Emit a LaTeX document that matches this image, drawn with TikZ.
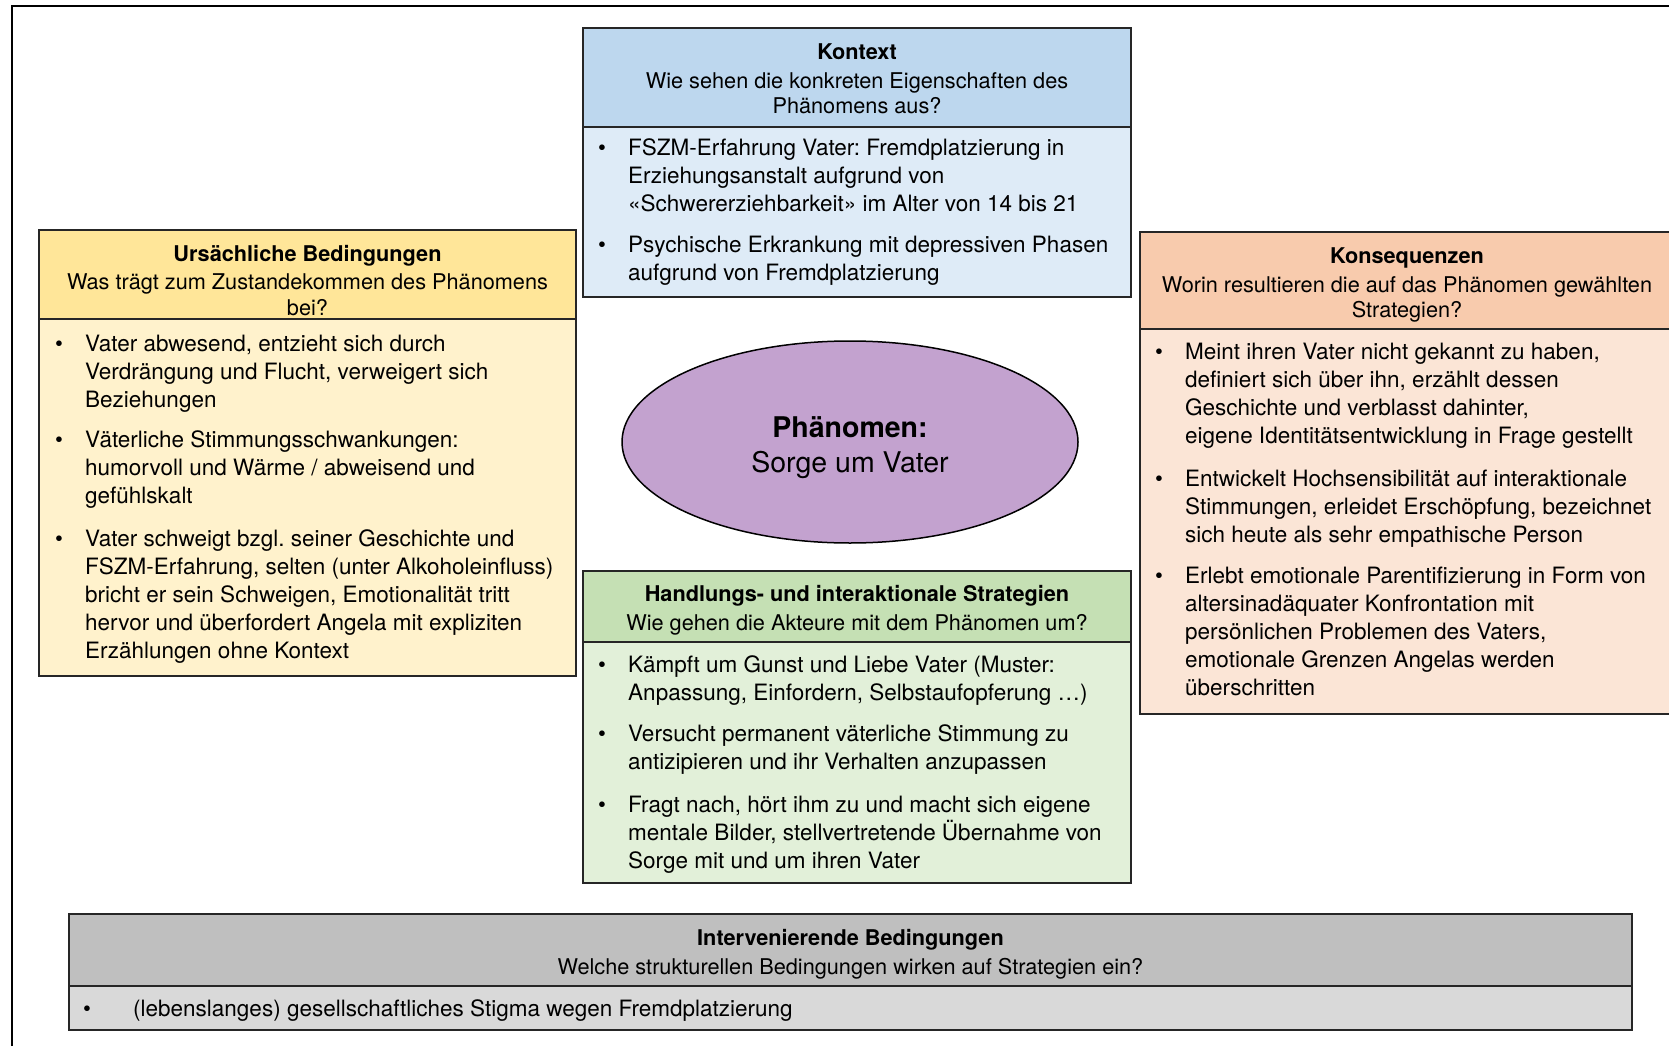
\documentclass[tikz,border=0pt]{standalone}
\usepackage{fontspec}
\setmainfont{TeX Gyre Heros}
\usetikzlibrary{shapes.geometric}
\definecolor{kbh}{HTML}{BDD7EE}\definecolor{kbb}{HTML}{DEEBF7}
\definecolor{ubh}{HTML}{FFE699}\definecolor{ubb}{HTML}{FFF2CC}
\definecolor{obh}{HTML}{F8CBAD}\definecolor{obb}{HTML}{FBE5D6}
\definecolor{hbh}{HTML}{C5E0B4}\definecolor{hbb}{HTML}{E2F0D9}
\definecolor{ibh}{HTML}{BFBFBF}\definecolor{ibb}{HTML}{D9D9D9}
\definecolor{phc}{HTML}{C3A2CF}
\definecolor{edgec}{HTML}{262626}
\frenchspacing
\newcommand{\bodyfont}{\fontsize{22.5}{28}\selectfont\frenchspacing}
\newcommand{\headfont}{\fontsize{21.7}{25.5}\selectfont\frenchspacing}
\newcommand{\bitem}[1]{\makebox[30pt][l]{\textbullet}\begin{tabular}[t]{@{}l@{}}#1\end{tabular}}
\tikzset{
  panel/.style={draw=edgec, line width=1.5pt, anchor=north west, inner sep=0pt, outer sep=0pt},
  headtext/.style={anchor=north, inner sep=0pt, align=center, font=\headfont},
  itemtext/.style={anchor=north west, inner sep=0pt, font=\bodyfont},
}
\begin{document}
\begin{tikzpicture}[x=1pt,y=-1pt]
\useasboundingbox (0,0) rectangle (1669,1046);
\clip (0,0) rectangle (1669,1046);
\fill[white] (0,0) rectangle (1669,1046);
% outer frame (top and left only)
\coordinate (fa) at (12,1046);
\coordinate (fb) at (12,6);
\coordinate (fc) at (1669,6);
\draw[line width=2pt, black] (fa) -- (fb) -- (fc);

% Kontext
\node[panel, fill=kbh, minimum width=548pt, minimum height=99pt] (kh) at (583,28) {};
\node[panel, fill=kbb, minimum width=548pt, minimum height=170pt] (kb) at (kh.south west) {};
\node[headtext] (kt) at (857,43.5) {\textbf{Kontext}\\[3pt]Wie sehen die konkreten Eigenschaften des\\Phänomens aus?};
\node[itemtext] (k1) at (598,135.4) {\bitem{FSZM-Erfahrung Vater: Fremdplatzierung in\\Erziehungsanstalt aufgrund von\\«Schwererziehbarkeit» im Alter von 14 bis 21}};
\node[itemtext] (k2) at (598,232.4) {\bitem{Psychische Erkrankung mit depressiven Phasen\\aufgrund von Fremdplatzierung}};

% Ursaechliche Bedingungen
\node[panel, fill=ubh, minimum width=537pt, minimum height=89pt] (uh) at (39,230) {};
\node[panel, fill=ubb, minimum width=537pt, minimum height=357pt] (ub) at (uh.south west) {};
\node[headtext] (ut) at (307.5,245) {\textbf{Ursächliche Bedingungen}\\[3pt]Was trägt zum Zustandekommen des Phänomens\\bei?};
\node[itemtext] (u1) at (55,331.4) {\bitem{Vater abwesend, entzieht sich durch\\Verdrängung und Flucht, verweigert sich\\Beziehungen}};
\node[itemtext] (u2) at (55,427.4) {\bitem{Väterliche Stimmungsschwankungen:\\humorvoll und Wärme / abweisend und\\gefühlskalt}};
\node[itemtext] (u3) at (55,526.4) {\bitem{Vater schweigt bzgl. seiner Geschichte und\\FSZM-Erfahrung, selten (unter Alkoholeinfluss)\\bricht er sein Schweigen, Emotionalität tritt\\hervor und überfordert Angela mit expliziten\\Erzählungen ohne Kontext}};

% Konsequenzen
\node[panel, fill=obh, minimum width=535pt, minimum height=97pt] (oh) at (1140,232) {};
\node[panel, fill=obb, minimum width=535pt, minimum height=385pt] (ob) at (oh.south west) {};
\node[headtext] (ot) at (1407,247.5) {\textbf{Konsequenzen}\\[3pt]Worin resultieren die auf das Phänomen gewählten\\Strategien?};
\node[itemtext] (o1) at (1155,339.4) {\bitem{Meint ihren Vater nicht gekannt zu haben,\\definiert sich über ihn, erzählt dessen\\Geschichte und verblasst dahinter,\\eigene Identitätsentwicklung in Frage gestellt}};
\node[itemtext] (o2) at (1155,466.4) {\bitem{Entwickelt Hochsensibilität auf interaktionale\\Stimmungen, erleidet Erschöpfung, bezeichnet\\sich heute als sehr empathische Person}};
\node[itemtext] (o3) at (1155,563.4) {\bitem{Erlebt emotionale Parentifizierung in Form von\\altersinadäquater Konfrontation mit\\persönlichen Problemen des Vaters,\\emotionale Grenzen Angelas werden\\überschritten}};

% Phaenomen
\node[ellipse, draw=black, line width=1.5pt, fill=phc, minimum width=456pt, minimum height=202pt, inner sep=0pt] (ph) at (850,442) {};
\node[align=center, inner sep=0pt, font=\fontsize{28.5}{35}\selectfont] (pt) at (850,448) {\textbf{Phänomen:}\\Sorge um Vater};

% Handlungs- und interaktionale Strategien
\node[panel, fill=hbh, minimum width=548pt, minimum height=71pt] (hh) at (583,571) {};
\node[panel, fill=hbb, minimum width=548pt, minimum height=241pt] (hb) at (hh.south west) {};
\node[headtext] (ht) at (857,585.5) {\textbf{Handlungs- und interaktionale Strategien}\\[3pt]Wie gehen die Akteure mit dem Phänomen um?};
\node[itemtext] (h1) at (598,652.4) {\bitem{Kämpft um Gunst und Liebe Vater (Muster:\\Anpassung, Einfordern, Selbstaufopferung \dots)}};
\node[itemtext] (h2) at (598,721.4) {\bitem{Versucht permanent väterliche Stimmung zu\\antizipieren und ihr Verhalten anzupassen}};
\node[itemtext] (h3) at (598,792.4) {\bitem{Fragt nach, hört ihm zu und macht sich eigene\\mentale Bilder, stellvertretende Übernahme von\\Sorge mit und um ihren Vater}};

% Intervenierende Bedingungen
\node[panel, fill=ibh, minimum width=1563pt, minimum height=72pt] (ih) at (69,914) {};
\node[panel, fill=ibb, minimum width=1563pt, minimum height=44pt] (ib) at (ih.south west) {};
\node[headtext] (it) at (850.5,929.5) {\textbf{Intervenierende Bedingungen}\\[3pt]Welche strukturellen Bedingungen wirken auf Strategien ein?};
\node[itemtext] (i1) at (83,996.4) {\strut\makebox[50pt][l]{\textbullet}(lebenslanges) gesellschaftliches Stigma wegen Fremdplatzierung};
\end{tikzpicture}
\end{document}
